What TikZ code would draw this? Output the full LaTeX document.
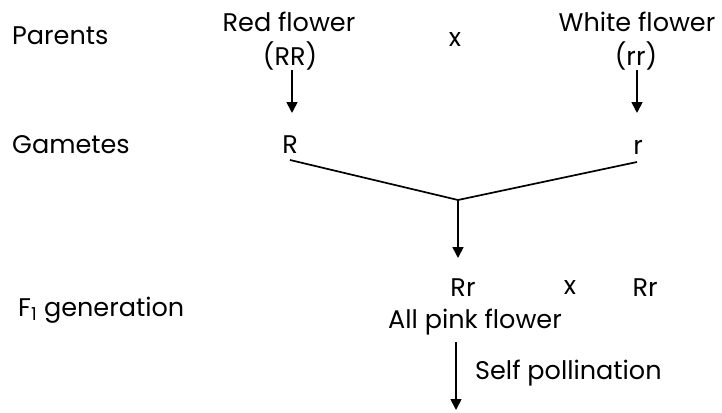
\documentclass[tikz,border=0pt]{standalone}
\usepackage{fontspec}
\setmainfont{Poppins}
\usetikzlibrary{arrows.meta}
\begin{document}
\begin{tikzpicture}[x=1pt,y=-1pt,
  lbl/.style={font=\fontsize{25.5}{27}\selectfont, inner sep=0pt},
  link/.style={line width=1.7pt},
  arr/.style={-{Triangle[length=11pt,width=11pt]}, line width=1.7pt}]
\useasboundingbox (0,0) rectangle (722,412);

% row labels
\node[lbl, anchor=west] (par) at (12,36) {Parents};
\node[lbl, anchor=west] (gam) at (12,145) {Gametes};
\node[lbl, anchor=west] (fone) at (18,310) {F\textsubscript{1} generation};

% parents
\node[lbl] (red) at (289,22) {Red flower};
\node[lbl] (redg) at (290,56) {(RR)};
\node[lbl] (cross1) at (455,40) {x};
\node[lbl] (white) at (637,22) {White flower};
\node[lbl] (whiteg) at (636,56) {(rr)};

% gametes
\node[lbl] (gR) at (290,145) {R};
\node[lbl] (gr) at (638,147) {r};

% F1 generation
\node[lbl] (f1a) at (463,288) {Rr};
\node[lbl] (cross2) at (570,288) {x};
\node[lbl] (f1b) at (645,288) {Rr};
\node[lbl] (pink) at (475,322) {All pink flower};
\node[lbl, anchor=west] (self) at (475,373) {Self pollination};

% connector points
\coordinate (a1s) at (292,70);
\coordinate (a1e) at (292,113);
\coordinate (a2s) at (637,70);
\coordinate (a2e) at (637,113);
\coordinate (lR) at (290,160);
\coordinate (lr) at (637,162);
\coordinate (joint) at (458,200);
\coordinate (jend) at (458,258);
\coordinate (s1) at (456,342);
\coordinate (s2) at (456,410);

\draw[arr] (a1s) -- (a1e);
\draw[arr] (a2s) -- (a2e);
\draw[link] (lR) -- (joint) -- (lr);
\draw[arr] (joint) -- (jend);
\draw[arr] (s1) -- (s2);
\end{tikzpicture}
\end{document}
